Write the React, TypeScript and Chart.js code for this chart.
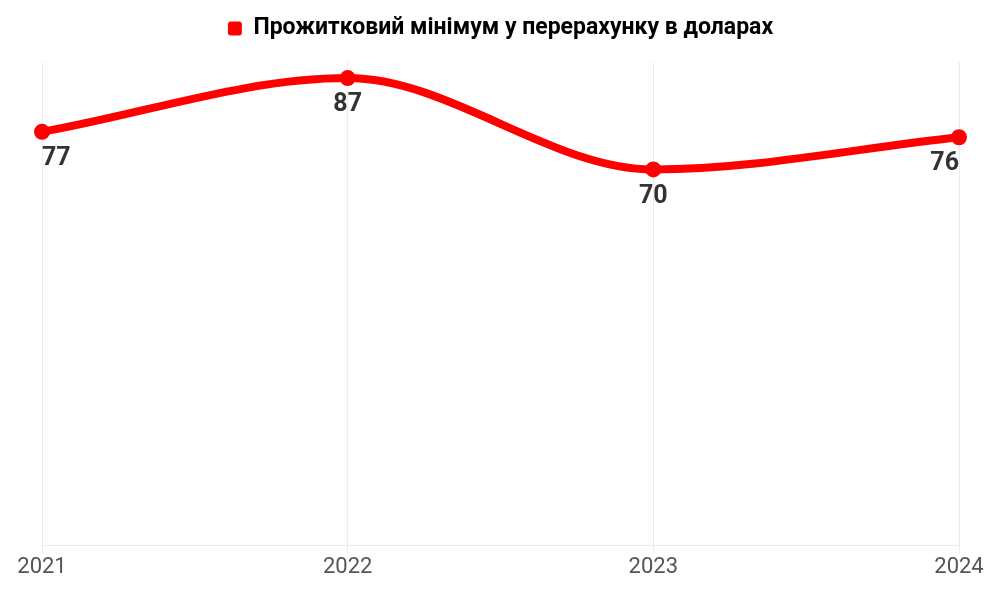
import React, { useEffect, useRef } from "react";
import { Chart, registerables } from "chart.js";

Chart.register(...registerables);

const years = ["2021", "2022", "2023", "2024"];
const values = [77, 87, 70, 76];
const seriesLabel = "Прожитковий мінімум у перерахунку в доларах";

const FONT = "Roboto, 'Noto Sans', sans-serif";

const valueLabels = {
  id: "valueLabels",
  afterDatasetsDraw(chart: any) {
    const { ctx, chartArea } = chart;
    const meta = chart.getDatasetMeta(0);
    ctx.save();
    ctx.font = `bold 25px ${FONT}`;
    ctx.fillStyle = "#333333";
    ctx.textAlign = "center";
    ctx.textBaseline = "middle";
    meta.data.forEach((pt: any, i: number) => {
      const text = String(values[i]);
      const w = ctx.measureText(text).width;
      let x = pt.x;
      if (x - w / 2 < chartArea.left) x = chartArea.left + w / 2;
      if (x + w / 2 > chartArea.right) x = chartArea.right - w / 2;
      ctx.fillText(text, x, pt.y + 27);
    });
    ctx.restore();
  },
};

const legendMargin = {
  id: "legendMargin",
  beforeInit(chart: any) {
    const legend = chart.legend;
    if (!legend) return;
    const orig = legend.fit;
    legend.fit = function () {
      orig.call(this);
      this.height += 12;
    };
  },
};

export default function App() {
  const ref = useRef<HTMLCanvasElement | null>(null);
  useEffect(() => {
    if (!ref.current) return;
    const chart = new Chart(ref.current, {
      type: "line",
      data: {
        labels: years,
        datasets: [
          {
            label: seriesLabel,
            data: values,
            borderColor: "#ff0000",
            backgroundColor: "#ff0000",
            borderWidth: 8,
            pointRadius: 8,
            pointBackgroundColor: "#ff0000",
            pointBorderWidth: 0,
            cubicInterpolationMode: "monotone",
          },
        ],
      },
      options: {
        animation: false,
        responsive: true,
        maintainAspectRatio: false,
        layout: { padding: { left: 42, right: 41, top: 3, bottom: 18 } },
        plugins: {
          legend: {
            position: "top",
            labels: {
              color: "#333333",
              font: { family: FONT, size: 23, weight: "bold" },
              boxWidth: 14,
              boxHeight: 14,
              useBorderRadius: true,
              borderRadius: 3,
              padding: 14,
              generateLabels: () => [
                {
                  text: seriesLabel,
                  fillStyle: "#ff0000",
                  strokeStyle: "#ff0000",
                  lineWidth: 0,
                  hidden: false,
                  datasetIndex: 0,
                  borderRadius: 3,
                },
              ],
            },
          },
          tooltip: { enabled: false },
        },
        scales: {
          x: {
            offset: false,
            grid: {
              display: true,
              color: "#ebebeb",
              lineWidth: 1,
              drawTicks: true,
              tickLength: 8,
            },
            border: { display: true, color: "#ebebeb" },
            ticks: {
              color: "#555555",
              font: { family: FONT, size: 22 },
              padding: 1,
              maxRotation: 0,
            },
          },
          y: {
            display: false,
            min: 0,
            max: 90,
          },
        },
      },
      plugins: [valueLabels, legendMargin],
    });
    return () => chart.destroy();
  }, []);
  return (
    <div style={{ position: "absolute", left: 0, top: 0, width: 1000, height: 600 }}>
      <canvas ref={ref} />
    </div>
  );
}
